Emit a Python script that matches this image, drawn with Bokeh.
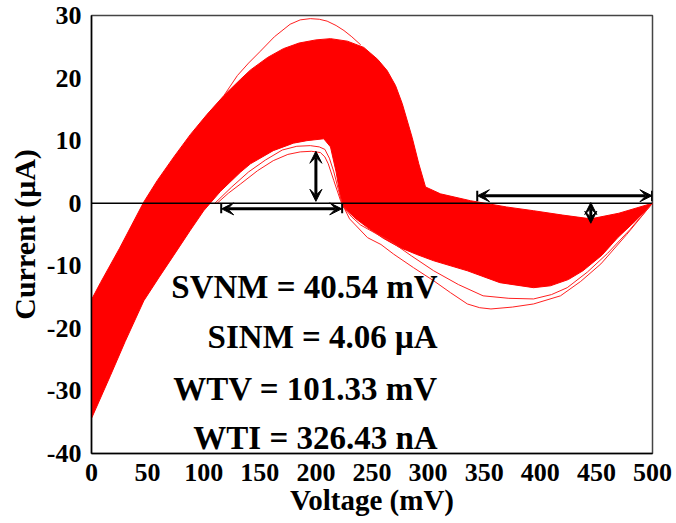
from bokeh.plotting import figure
from bokeh.models import Span, Label, Arrow, VeeHead, FixedTicker, ColumnDataSource
from bokeh.embed import file_html
from bokeh.resources import INLINE

# Envelope of the Monte Carlo I-V curves (mV, uA)
V_UPPER = [0, 8, 25, 46.6, 58.5, 73.4, 88.2, 103, 118, 132.8, 141.7, 157, 171, 185, 200, 213, 228,
           242.7, 255, 263.5, 271, 277, 285.8, 291.7, 297.7, 311, 337.8, 370, 394, 420, 445, 470, 500]
I_UPPER = [-15.4, -12.7, -7.2, 0.2, 3.6, 7.4, 11.0, 14.2, 17.2, 19.8, 21.3, 23.3, 24.7, 25.6, 26.1, 26.3, 25.9,
           24.9, 23.0, 21.2, 18.8, 15.9, 10.5, 6.3, 2.6, 1.5, 0.4, -0.6, -1.2, -1.9, -2.5, -1.6, 0]

V_LOWER = [0, 17, 30, 46.6, 60, 73.4, 88.2, 100, 115, 133, 141.7, 162, 180, 192, 207, 213, 218, 222, 225,
           235, 246, 260, 275, 290, 305, 335, 364, 394, 409, 425, 438, 455, 469, 485, 500]
I_LOWER = [-34.4, -27.5, -22.1, -15.6, -11.9, -8.3, -4.3, -1.2, 1.9, 5.0, 6.3, 8.4, 9.6, 10.0, 10.3, 9.0, 5.0, 0.9, -0.7,
           -2.4, -3.9, -5.6, -7.1, -8.2, -9.2, -10.8, -12.7, -13.5, -13.2, -12.2, -10.8, -8.3, -5.5, -2.8, 0]

# Individual outlier runs lying outside the dense band
V_HIGH_RUN = [118, 130, 140, 150, 163, 177, 186, 195, 203, 210, 218, 225, 232, 240]
I_HIGH_RUN = [17.2, 20.4, 22.4, 24.2, 26.6, 28.6, 29.3, 29.5, 29.4, 29.1, 28.4, 27.6, 26.6, 25.3]

V_LOW_RUN_A = [112, 122, 133, 148, 162, 175, 186, 196, 204, 208, 211, 216, 222, 230, 246, 258, 269, 287, 305,
               320, 335, 346, 356, 375, 394, 418, 436, 454, 477, 500]
I_LOW_RUN_A = [0, 1.6, 3.1, 5.2, 6.8, 7.8, 8.2, 8.3, 8.1, 7.4, 6.3, 3.6, 0.4, -2.5, -5.5, -6.6, -8.1, -10.3, -12.4,
               -14.3, -16.1, -16.7, -16.9, -16.6, -16.1, -14.8, -12.5, -9.7, -5.0, 0]

V_LOW_RUN_B = [110, 125, 140, 155, 170, 183, 195, 203, 208, 212, 216, 220, 224, 232, 240, 253, 266, 285, 305,
               327, 349, 372, 394, 410, 424, 442, 460, 480, 500]
I_LOW_RUN_B = [0, 2.6, 5.0, 6.9, 8.5, 9.1, 9.2, 9.0, 8.6, 7.2, 5.0, 2.2, -0.5, -2.2, -3.5, -4.8, -6.0, -8.4, -10.8,
               -13.0, -14.8, -15.2, -15.3, -14.6, -13.5, -11.0, -8.0, -4.2, 0]

X_TICKS = [0, 50, 100, 150, 200, 250, 300, 350, 400, 450, 500]
Y_TICKS = [-40, -30, -20, -10, 0, 10, 20, 30]
Y_TICK_LABELS = ["-40", "-30", "-20", "-10", "0", "10", "20", "30"]

METRICS = ["SVNM = 40.54 mV", "SINM = 4.06 \u03bcA", "WTV = 101.33 mV", "WTI = 326.43 nA"]
METRIC_BASELINES = [-13.35, -21.35, -29.65, -37.45]

FONT = "Liberation Serif"

p = figure(width=676, height=523, x_range=(0, 500), y_range=(-40, 30),
           output_backend="svg", toolbar_location=None,
           min_border_left=91, min_border_right=24, min_border_top=15, min_border_bottom=70)

p.grid.visible = False
p.outline_line_color = "#444444"
p.outline_line_width = 1.5
p.background_fill_color = "white"
p.border_fill_color = "white"

for ax in (p.xaxis[0], p.yaxis[0]):
    ax.axis_line_color = "black"
    ax.axis_line_width = 1.5
    ax.major_tick_line_color = None
    ax.minor_tick_line_color = None
    ax.major_tick_out = 0
    ax.major_tick_in = 0
    ax.major_label_text_font = FONT
    ax.major_label_text_font_style = "bold"
    ax.major_label_text_font_size = "26px"
    ax.major_label_text_color = "black"
    ax.axis_label_text_font = FONT
    ax.axis_label_text_font_style = "bold"
    ax.axis_label_text_color = "black"

p.xaxis.ticker = FixedTicker(ticks=X_TICKS)
p.yaxis.ticker = FixedTicker(ticks=Y_TICKS)
p.yaxis.major_label_overrides = {t: s for t, s in zip(Y_TICKS, Y_TICK_LABELS)}
p.xaxis.axis_label = "Voltage (mV)"
p.yaxis.axis_label = "Current (\u03bcA)"
p.xaxis.axis_label_text_font_size = "29px"
p.yaxis.axis_label_text_font_size = "30px"
p.xaxis.major_label_standoff = 10
p.yaxis.major_label_standoff = 10
p.xaxis.axis_label_standoff = 0
p.yaxis.axis_label_standoff = 3

# dense band of curves
p.patch(V_UPPER + V_LOWER[::-1], I_UPPER + I_LOWER[::-1],
        fill_color="#ff0000", line_color="#ff0000", line_width=1)

for vs, cs in ((V_HIGH_RUN, I_HIGH_RUN), (V_LOW_RUN_A, I_LOW_RUN_A), (V_LOW_RUN_B, I_LOW_RUN_B)):
    p.line(vs, cs, line_color="#ff2020", line_width=1)

p.add_layout(Span(location=0, dimension="width", line_color="black", line_width=1.5))

# noise-margin markers
def double_arrow(x0, y0, x1, y1):
    p.add_layout(Arrow(x_start=x0, y_start=y0, x_end=x1, y_end=y1, line_width=3, line_color="black",
                       start=VeeHead(size=12, fill_color="black", line_color="black"),
                       end=VeeHead(size=12, fill_color="black", line_color="black")))

double_arrow(200, 0.3, 200, 8.3)
double_arrow(116, -0.9, 223, -0.9)
double_arrow(344, 1.2, 499.5, 1.2)
double_arrow(445, 0.1, 445, -3.2)

bars = ColumnDataSource(dict(x0=[115.6, 223.4, 343.8, 499.6],
                             y0=[0, 0, 0.3, 0.3],
                             x1=[115.6, 223.4, 343.8, 499.6],
                             y1=[-1.6, -1.6, 2.0, 2.0]))
p.segment("x0", "y0", "x1", "y1", source=bars, line_color="black", line_width=2)

for txt, yb in zip(METRICS, METRIC_BASELINES):
    p.add_layout(Label(x=308.5, y=yb, text=txt, text_align="right", text_baseline="alphabetic",
                       text_font=FONT, text_font_style="bold", text_font_size="33px",
                       text_color="black"))

open("out.html", "w").write(file_html(p, INLINE))
